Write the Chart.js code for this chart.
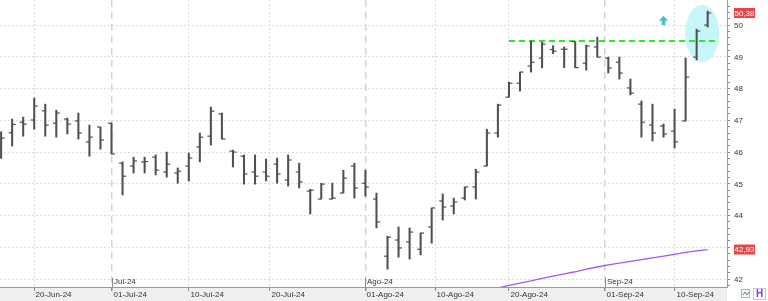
<!DOCTYPE html>
<html>
<head>
<meta charset="utf-8">
<script src="https://cdn.jsdelivr.net/npm/chart.js@4.4.1/dist/chart.umd.min.js"></script>
<style>
  html, body { margin: 0; padding: 0; background: #fff; }
</style>
</head>
<body>
<canvas id="ohlcChart" width="768" height="301"></canvas>
<script>
// trading days shown
const dates = [
  '2024-06-17','2024-06-18','2024-06-19','2024-06-20','2024-06-21','2024-06-24','2024-06-25','2024-06-26','2024-06-27','2024-06-28',
  '2024-07-01','2024-07-02','2024-07-03','2024-07-04','2024-07-05','2024-07-08','2024-07-09','2024-07-10','2024-07-11','2024-07-12',
  '2024-07-15','2024-07-16','2024-07-17','2024-07-18','2024-07-19','2024-07-22','2024-07-23','2024-07-24','2024-07-25','2024-07-26',
  '2024-07-29','2024-07-30','2024-07-31','2024-08-01','2024-08-02','2024-08-05','2024-08-06','2024-08-07','2024-08-08','2024-08-09',
  '2024-08-12','2024-08-13','2024-08-14','2024-08-15','2024-08-16','2024-08-19','2024-08-20','2024-08-21','2024-08-22','2024-08-23',
  '2024-08-26','2024-08-27','2024-08-28','2024-08-29','2024-08-30','2024-09-02','2024-09-03','2024-09-04','2024-09-05','2024-09-06',
  '2024-09-09','2024-09-10','2024-09-11','2024-09-12','2024-09-13'
];

const openVals = [
  46.06, 46.61, 46.94, 47.01, 47.30, 46.91, 47.04, 46.98, 46.32, 46.79,
  46.91, 45.65, 45.56, 45.69, 45.84, 45.37, 45.34, 45.56, 46.16, 46.50,
  47.20, 46.03, 45.87, 45.37, 45.37, 45.62, 45.12, 45.37, 44.77, 44.52,
  44.52, 44.71, 45.56, 45.02, 44.52, 42.72, 43.23, 43.17, 42.94, 43.64,
  44.46, 44.30, 44.55, 44.90, 45.56, 46.60, 47.73, 48.17, 48.71, 48.96,
  49.23, 49.24, 49.48, 48.80, 49.31, 48.96, 48.83, 48.02, 47.51, 46.85,
  46.82, 46.66, 46.98, 48.99, 50.00
];
const highVals = [
  46.64, 47.04, 47.10, 47.70, 47.51, 47.32, 47.07, 47.23, 46.85, 46.79,
  46.91, 45.69, 45.84, 45.84, 45.91, 46.00, 45.50, 45.97, 46.60, 47.42,
  47.23, 46.06, 45.91, 45.91, 45.78, 45.81, 45.91, 45.65, 44.83, 45.02,
  45.02, 45.43, 45.65, 45.43, 44.71, 43.35, 43.64, 43.61, 43.45, 44.24,
  44.68, 44.55, 44.90, 45.46, 46.72, 47.51, 48.20, 48.52, 49.50, 49.46,
  49.35, 49.31, 49.48, 49.37, 49.62, 48.99, 48.99, 48.30, 47.61, 47.51,
  46.88, 47.35, 48.96, 49.87, 50.44
];
const lowVals = [
  45.80, 46.19, 46.50, 46.72, 46.50, 46.47, 46.57, 46.41, 45.87, 46.09,
  45.94, 44.65, 45.34, 45.34, 45.28, 45.21, 45.02, 45.09, 45.69, 46.22,
  46.41, 45.53, 44.99, 44.99, 45.09, 45.02, 44.93, 44.87, 44.05, 44.52,
  44.52, 44.71, 44.55, 44.61, 43.61, 42.31, 42.69, 42.63, 42.76, 43.13,
  43.86, 44.05, 44.49, 44.52, 45.56, 46.47, 47.73, 47.92, 48.52, 48.65,
  49.10, 48.66, 48.66, 48.58, 48.99, 48.49, 48.30, 47.80, 46.47, 46.35,
  46.47, 46.13, 46.98, 48.90, 49.94
];
const closeVals = [
  46.44, 46.87, 46.88, 47.45, 46.85, 47.23, 46.88, 46.60, 46.47, 46.38,
  45.94, 45.24, 45.72, 45.70, 45.43, 45.62, 45.40, 45.81, 46.47, 47.29,
  46.41, 46.00, 45.31, 45.24, 45.24, 45.31, 45.75, 45.06, 44.80, 44.99,
  44.55, 45.18, 44.87, 44.90, 43.80, 43.32, 42.98, 43.48, 43.45, 44.24,
  44.27, 44.43, 44.90, 45.37, 46.60, 47.48, 48.17, 48.52, 48.83, 49.40,
  49.18, 49.24, 48.66, 49.34, 48.99, 48.65, 48.49, 47.86, 46.94, 46.60,
  46.57, 46.32, 48.36, 49.81, 50.38
];
// moving average (only the visible part, from 19-Aug)
const maVals = [
  null, null, null, null, null, null, null, null, null, null,
  null, null, null, null, null, null, null, null, null, null,
  null, null, null, null, null, null, null, null, null, null,
  null, null, null, null, null, null, null, null, null, null,
  null, null, null, null, null, 41.72, 41.80, 41.87, 41.94, 42.02,
  42.09, 42.16, 42.23, 42.31, 42.38, 42.45, 42.50, 42.56, 42.61, 42.67,
  42.72, 42.78, 42.84, 42.89, 42.93
];

const xTickDates = ['2024-06-20','2024-07-01','2024-07-10','2024-07-20','2024-08-01','2024-08-10','2024-08-20','2024-09-01','2024-09-10'];
const xTickLabels = ['20-Jun-24','01-Jul-24','10-Jul-24','20-Jul-24','01-Ago-24','10-Ago-24','20-Ago-24','01-Sep-24','10-Sep-24'];
const monthDates = ['2024-07-01','2024-08-01','2024-09-01'];
const monthLabels = ['Jul-24','Ago-24','Sep-24'];
const yTickLabels = [42, 43, 44, 45, 46, 47, 48, 49, 50];

const resistanceLevel = 49.5;
const resistanceFrom = '2024-08-20';
const circleDate = '2024-09-12';
const circlePrice = 49.74;
const arrowDate = '2024-09-09';
const arrowPrice = [50.0, 50.29];

const FONT = { family: "'Liberation Sans', Arial, sans-serif", size: 8 };
const BAR_COLOR = '#505050';

// calendar date -> (fractional) bar index, weekends fall between bars
const dateTimes = dates.map(d => Date.parse(d + 'T00:00:00Z'));
function dateToIndex(s) {
  const t = Date.parse(s + 'T00:00:00Z');
  for (let i = 0; i < dateTimes.length - 1; i++) {
    if (t === dateTimes[i]) return i;
    if (t > dateTimes[i] && t < dateTimes[i + 1]) {
      return i + (t - dateTimes[i]) / (dateTimes[i + 1] - dateTimes[i]);
    }
  }
  return dateTimes.length - 1;
}
const monthIdx = monthDates.map(dateToIndex);
const isMonth = v => monthIdx.some(m => Math.abs(m - v) < 1e-6);
const isInt = v => Math.abs(v - Math.round(v)) < 1e-6;

const decoPlugin = {
  id: 'deco',
  beforeDraw(chart) {
    const { ctx, chartArea, width, height } = chart;
    ctx.save();
    ctx.fillStyle = '#ffffff';
    ctx.fillRect(0, 0, width, height);
    ctx.fillStyle = '#efefef';
    ctx.fillRect(0, chartArea.bottom, chartArea.right, height - chartArea.bottom);
    ctx.restore();
  },
  beforeDatasetsDraw(chart) {
    const { ctx, scales } = chart;
    const cx = scales.x.getPixelForValue(dateToIndex(circleDate) + 0.5);
    const cy = scales.y.getPixelForValue(circlePrice);
    ctx.save();
    ctx.fillStyle = '#c6f5fa';
    ctx.beginPath();
    ctx.ellipse(cx, cy, 17, 28.5, 0, 0, Math.PI * 2);
    ctx.fill();
    ctx.restore();
  },
  afterDraw(chart) {
    const { ctx, scales, chartArea } = chart;
    const xs = scales.x, ys = scales.y;
    ctx.save();
    ctx.font = `${FONT.size}px ${FONT.family}`;
    ctx.fillStyle = '#333';
    // date labels under the axis
    ctx.textBaseline = 'middle';
    ctx.textAlign = 'left';
    xTickDates.forEach((d, i) => {
      const px = Math.round(xs.getPixelForValue(dateToIndex(d)));
      ctx.fillText(xTickLabels[i], px + 1.5, chartArea.bottom + 8);
    });
    // price labels
    yTickLabels.forEach(v => {
      ctx.fillText(String(v), chartArea.right + 7, ys.getPixelForValue(v) + 0.5);
    });
    // month labels above the time axis
    monthIdx.forEach((m, i) => {
      const px = Math.round(xs.getPixelForValue(m)) + 0.5;
      ctx.strokeStyle = '#8a8a8a';
      ctx.lineWidth = 1;
      ctx.beginPath();
      ctx.moveTo(px, chartArea.bottom - 9);
      ctx.lineTo(px, chartArea.bottom);
      ctx.stroke();
      ctx.fillStyle = '#333';
      ctx.fillText(monthLabels[i], px + 1.5, chartArea.bottom - 5);
    });
    // arrow marker
    const ax = xs.getPixelForValue(dateToIndex(arrowDate));
    const aTop = ys.getPixelForValue(arrowPrice[1]);
    const aBot = ys.getPixelForValue(arrowPrice[0]);
    ctx.fillStyle = '#3cc6c6';
    ctx.beginPath();
    ctx.moveTo(ax, aTop);
    ctx.lineTo(ax + 4.5, aTop + 5);
    ctx.lineTo(ax + 1.8, aTop + 5);
    ctx.lineTo(ax + 1.8, aBot);
    ctx.lineTo(ax - 1.8, aBot);
    ctx.lineTo(ax - 1.8, aTop + 5);
    ctx.lineTo(ax - 4.5, aTop + 5);
    ctx.closePath();
    ctx.fill();
    // last value boxes on the price axis
    const boxes = [closeVals[closeVals.length - 1], maVals[maVals.length - 1]];
    ctx.textAlign = 'center';
    boxes.forEach(v => {
      const py = ys.getPixelForValue(v);
      ctx.fillStyle = '#e34848';
      ctx.fillRect(chartArea.right + 7, py - 5, 21, 10);
      ctx.fillStyle = '#ffffff';
      ctx.fillText(v.toFixed(2).replace('.', ','), chartArea.right + 17.5, py + 0.5);
    });
    // little toolbar icons bottom right
    const iy = chartArea.bottom + 2;
    ctx.strokeStyle = '#aab4c4';
    ctx.fillStyle = '#f5f7fb';
    ctx.lineWidth = 1;
    ctx.fillRect(741, iy, 9, 9);
    ctx.strokeRect(741.5, iy + 0.5, 8, 8);
    ctx.strokeStyle = '#5a7bb5';
    ctx.beginPath();
    ctx.moveTo(743, iy + 6);
    ctx.lineTo(745, iy + 3);
    ctx.lineTo(747, iy + 6);
    ctx.lineTo(749, iy + 3);
    ctx.stroke();
    ctx.strokeStyle = '#c9c0e6';
    ctx.fillStyle = '#ffffff';
    ctx.fillRect(753, iy - 1, 13, 12);
    ctx.strokeRect(753.5, iy - 0.5, 12, 11);
    ctx.fillStyle = '#7b3fd6';
    ctx.font = `bold 10px ${FONT.family}`;
    ctx.fillText('H', 759.5, iy + 5.5);
    ctx.restore();
  }
};

const ctx = document.getElementById('ohlcChart').getContext('2d');

new Chart(ctx, {
  type: 'bar',
  data: {
    datasets: [
      {
        type: 'line',
        label: 'Resistencia',
        data: [
          { x: dateToIndex(resistanceFrom), y: resistanceLevel },
          { x: dates.length, y: resistanceLevel }
        ],
        borderColor: '#2ee82e',
        borderWidth: 2,
        borderDash: [6, 4],
        pointRadius: 0,
        order: 3
      },
      {
        type: 'line',
        label: 'Media',
        data: maVals.map((v, i) => ({ x: i, y: v })),
        borderColor: '#a855f7',
        borderWidth: 1.3,
        pointRadius: 0,
        tension: 0,
        order: 4
      },
      {
        label: 'Rango',
        data: dates.map((d, i) => ({ x: i, y: [lowVals[i], highVals[i]] })),
        backgroundColor: BAR_COLOR,
        borderWidth: 0,
        barThickness: 1.4,
        order: 2
      },
      {
        type: 'line',
        label: 'Apertura',
        data: openVals.map((v, i) => ({ x: i, y: v })),
        showLine: false,
        pointStyle: 'dash',
        pointRotation: 180,
        pointRadius: 3.5,
        pointBorderWidth: 1.2,
        pointBorderColor: BAR_COLOR,
        order: 1
      },
      {
        type: 'line',
        label: 'Cierre',
        data: closeVals.map((v, i) => ({ x: i, y: v })),
        showLine: false,
        pointStyle: 'dash',
        pointRadius: 3.5,
        pointBorderWidth: 1.2,
        pointBorderColor: BAR_COLOR,
        order: 1
      }
    ]
  },
  options: {
    responsive: false,
    animation: false,
    devicePixelRatio: 1,
    events: [],
    layout: { padding: 0, autoPadding: false },
    plugins: { legend: { display: false }, tooltip: { enabled: false } },
    scales: {
      x: {
        type: 'linear',
        offset: false,
        min: -0.1,
        max: dates.length + 0.75,
        afterBuildTicks: s => { s.ticks = xTickDates.map(d => ({ value: dateToIndex(d) })); },
        afterFit: s => { s.height = 14; s.paddingLeft = 0; s.paddingRight = 0; },
        ticks: { display: false },
        grid: {
          offset: false,
          color: c => (c.tick && isMonth(c.tick.value)) ? '#d4d4d4' : '#dddddd',
          lineWidth: c => (c.tick && isMonth(c.tick.value)) ? 1.5 : 1,
          tickLength: 4,
          tickColor: '#8a8a8a'
        },
        border: {
          color: '#9a9a9a',
          dash: c => c.tick ? (isMonth(c.tick.value) ? [7, 5] : [2, 2]) : []
        }
      },
      y: {
        position: 'right',
        min: 41.75,
        max: 50.79,
        afterBuildTicks: s => {
          const t = [];
          for (let k = 209; k <= 253; k++) t.push({ value: k / 5 });
          s.ticks = t;
        },
        afterFit: s => { s.width = 41; s.paddingTop = 0; s.paddingBottom = 0; },
        ticks: { display: false, autoSkip: false },
        grid: {
          color: c => (c.tick && isInt(c.tick.value)) ? '#dcdcdc' : 'rgba(0,0,0,0)',
          tickColor: '#8a8a8a',
          tickLength: 3
        },
        border: { color: '#9a9a9a', dash: [2, 2] }
      }
    }
  },
  plugins: [decoPlugin]
});
</script>
</body>
</html>
